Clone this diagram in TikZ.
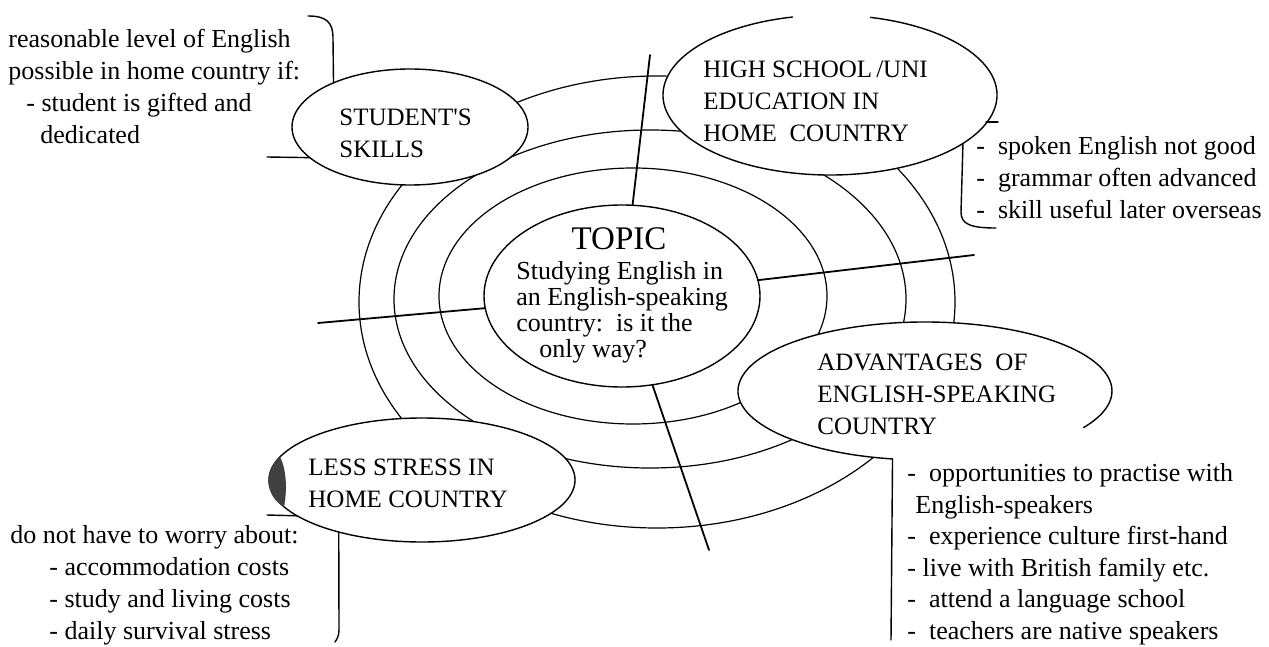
\documentclass[tikz,border=0pt]{standalone}
\usepackage{fontspec}
\setmainfont{Liberation Serif}
\usepackage{tikz}
\usetikzlibrary{shapes.geometric}

\newcommand\notefont{\fontsize{13}{16}\selectfont}
\newcommand\bubblefont{\fontsize{12.5}{16}\selectfont}
\newcommand\topicfont{\fontsize{13}{13}\selectfont}
\newcommand\titlefont{\fontsize{16.5}{18}\selectfont}

\begin{document}
\begin{tikzpicture}[x=0.5pt, y=-0.5pt, line cap=round,
  ring/.style={line width=0.6pt},
  spoke/.style={line width=0.9pt},
  rim/.style={line width=0.7pt},
  bubble/.style={ellipse, fill=white, draw, line width=0.7pt, inner sep=0pt, outer sep=0pt},
  note/.style={anchor=north west, align=left, inner sep=0pt, font=\notefont},
  heading/.style={anchor=north west, align=left, inner sep=0pt, font=\bubblefont}]

\useasboundingbox (0,0) rectangle (1269,647);

\foreach \cx/\cy/\rx/\ry in {633/296/194/128, 650/299/256/169, 657/302/298/226}
  \draw [ring] (\cx,\cy) ellipse [x radius=\rx, y radius=\ry];

\node [bubble, minimum width=138pt, minimum height=91pt] (topic) at (622,296) {};
\node [bubble, minimum width=118pt, minimum height=58pt] (skills) at (410,127) {};
\node [bubble, draw=none, minimum width=167pt, minimum height=80pt] (school) at (830,95) {};
\node [bubble, draw=none, minimum width=187pt, minimum height=69pt] (abroad) at (925,391) {};
\node [bubble, minimum width=153pt, minimum height=62pt] (stress) at (422,480) {};

\draw [rim] ([shift={(284:167 and 80)}]school.center)
  arc [start angle=284, end angle=617, x radius=167, y radius=80];
\draw [rim] ([shift={(100:187 and 69)}]abroad.center)
  arc [start angle=100, end angle=392, x radius=187, y radius=69];

\fill [black!75] (280,457) .. controls (264,470) and (264,495) .. (284,507)
  .. controls (287,492) and (287,470) .. cycle;

\foreach \n/\x/\y in {w/318/323, e/974/255, n/650/55, s/709/550} {
  \coordinate (spoke-\n) at (\x,\y);
  \draw [spoke] (topic) -- (spoke-\n);
}

\coordinate (skills-hook) at (308,16);
\coordinate (skills-stub) at (267,157);
\coordinate (school-hook) at (996,228);
\coordinate (stress-hook) at (335,642);
\coordinate (stress-stub) at (267,515);
\coordinate (abroad-hook) at (891,640);

\draw [rim] (skills.150) -- (333,38) .. controls (333,22) and (326,16) .. (skills-hook);
\draw [rim] (skills.197) -- (skills-stub);
\draw [rim] (school.-20) -- (961,212) .. controls (961,224) and (970,228) .. (school-hook);
\draw [rim] (986,122) -- (998,122);
\draw [rim] (stress.212) -- (339,630) .. controls (339,636) and (337,639) .. (stress-hook);
\draw [rim] (stress.196) -- (stress-stub);
\draw [rim] ([shift={(100:187 and 69)}]abroad.center) -- (abroad-hook);

\node [anchor=center, inner sep=0pt, font=\titlefont] (topic-title) at (619,239) {TOPIC};
\node [anchor=north west, align=left, inner sep=0pt, font=\topicfont] (topic-text) at (516,261)
  {Studying English in\\an English-speaking\\country:\ \ is it the\\\hspace*{11.5pt}only way?};

\node [heading] (skills-text) at (339,109) {STUDENT\textquotesingle S\\SKILLS};
\node [heading] (school-text) at (703,61) {HIGH SCHOOL\,/UNI\\EDUCATION IN\\HOME\ \ COUNTRY};
\node [heading] (abroad-text) at (817,354) {ADVANTAGES\ \ OF\\ENGLISH-SPEAKING\\COUNTRY};
\node [heading] (stress-text) at (308,459) {LESS STRESS IN\\HOME COUNTRY};

\node [note] (skills-note) at (8,29)
  {reasonable level of English\\possible in home country if:\\
   \hspace*{9pt}- student is gifted and\\\hspace*{16pt}dedicated};
\node [note] (school-note) at (976,136)
  {-\ \ spoken English not good\\-\ \ grammar often advanced\\-\ \ skill useful later overseas};
\node [note] (stress-note) at (10,525)
  {do not have to worry about:\\\hspace*{19.5pt}- accommodation costs\\
   \hspace*{19.5pt}- study and living costs\\\hspace*{19.5pt}- daily survival stress};
\node [note, font=\fontsize{13}{15.8}\selectfont] (abroad-note) at (907,463)
  {-\ \ opportunities to practise with\\\hspace*{4pt}English-speakers\\
   -\ \ experience culture first-hand\\- live with British family etc.\\
   -\ \ attend a language school\\-\ \ teachers are native speakers};

\end{tikzpicture}
\end{document}
